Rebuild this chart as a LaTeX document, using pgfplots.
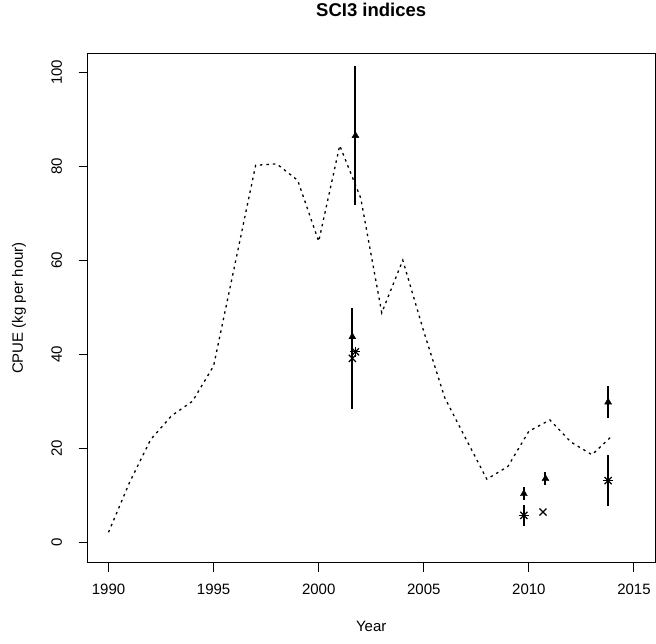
\documentclass[border=0pt]{standalone}
\usepackage{pgfplots}
\pgfplotsset{compat=1.18}
\usepackage{fontspec}
\setmainfont{Liberation Sans}
\begin{document}
\begin{tikzpicture}
\begin{axis}[
 scale only axis, width=567.5pt, height=509.4pt,
 xmin=1989, xmax=2016, ymin=-4.4, ymax=104,
 xtick={1990,1995,...,2015}, ytick={0,20,...,100},
 xtick pos=bottom, ytick pos=left,
 tick align=outside, major tick length=9pt,
 axis line style={line width=1pt},
 tick style={line width=1pt, black},
 /pgf/number format/assume math mode=true,
 /pgf/number format/1000 sep={},
 tick label style={font=\fontsize{15}{17}\selectfont},
 yticklabel style={rotate=90, anchor=south},
 yticklabel shift=13pt,
 xticklabel shift=9pt,
 xlabel={Year}, ylabel={CPUE (kg per hour)},
 label style={font=\fontsize{15}{17}\selectfont},
 xlabel style={at={(axis description cs:0.5,-0.1086)}, anchor=north},
 ylabel style={at={(axis description cs:-0.1207,0.5)}, anchor=center},
 title={\bfseries SCI3 indices},
 title style={at={(axis description cs:0.5,1.0732)}, anchor=center, font=\fontsize{18.5}{20}\selectfont},
 clip=false,
]
\addplot[black, line width=1.3pt, dash pattern=on 2.5pt off 4pt] coordinates {
(1990,2.1) (1991,12.7) (1992,21.8) (1993,26.9) (1994,30.0) (1995,37.5)
(1996,58.8) (1997,80.2) (1998,80.5) (1999,77.0) (2000,64.0) (2001,84.4)
(2002,73.2) (2003,48.8) (2004,60.0) (2005,44.8) (2006,30.7) (2007,22.0)
(2008,13.4) (2009,16.1) (2010,23.6) (2011,26.0) (2012,21.3) (2013,18.6)
(2014,22.8)
};
% triangles with error bars
\addplot[black, only marks, mark=triangle*, mark size=4pt,
 error bars/.cd, y dir=both, y explicit, error mark=none,
 error bar style={line width=2pt, black}] coordinates {
(2001.75,86.5) +- (0,14.8)
(2001.6,43.7) +- (0,6.0)
(2009.76,10.3) +- (0,1.4)
(2010.79,13.5) +- (0,1.4)
(2013.77,29.8) +- (0,3.4)
};
% asterisks with error bars
\addplot[black, only marks, mark=x, mark size=5pt, mark options={line width=1.2pt},
 error bars/.cd, y dir=both, y explicit, error mark=none,
 error bar style={line width=2pt, black}] coordinates {
(2001.75,40.5) +- (0,0)
(2009.76,5.7) +- (0,2.3)
(2013.77,13.1) +- (0,5.5)
};
\addplot[black, only marks, mark=+, mark size=5pt, mark options={line width=1.2pt}] coordinates {
(2001.75,40.5) (2009.76,5.7) (2013.77,13.1)
};
% crosses
\addplot[black, only marks, mark=x, mark size=5pt, mark options={line width=1.2pt},
 error bars/.cd, y dir=both, y explicit, error mark=none,
 error bar style={line width=2pt, black}] coordinates {
(2001.6,39.1) +- (0,10.7)
(2010.67,6.4) +- (0,0)
};
\end{axis}
\path ([xshift=-87.5pt,yshift=-80.3pt]current axis.south west) rectangle ([xshift=1pt,yshift=53.3pt]current axis.north east);
\end{tikzpicture}
\end{document}
